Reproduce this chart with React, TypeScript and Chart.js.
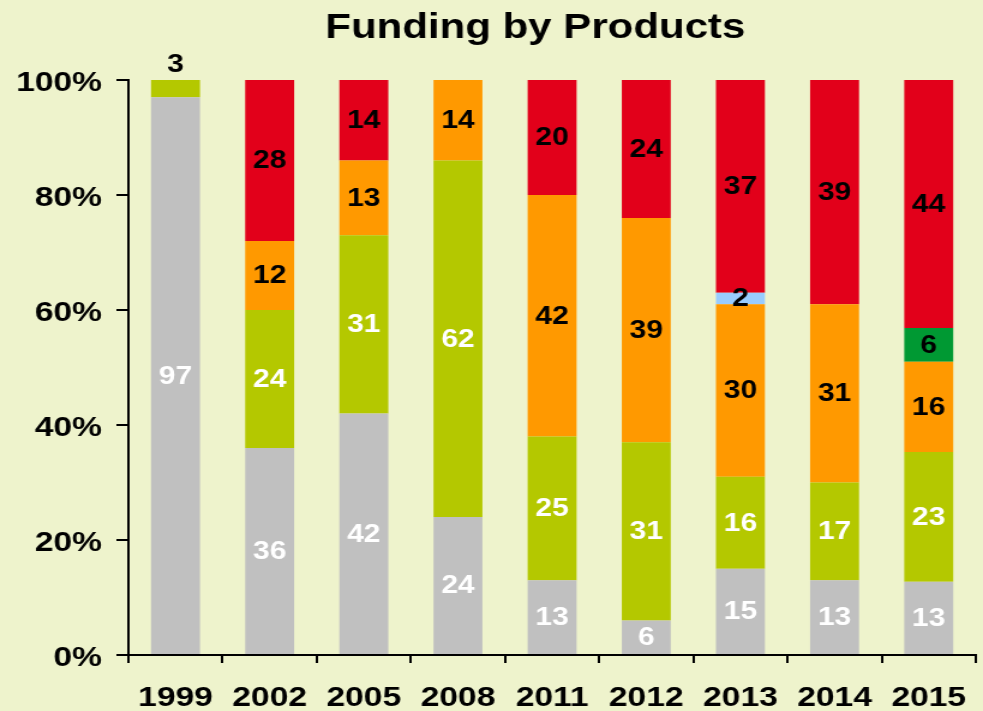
import React, { useEffect, useRef } from "react";
import { Chart, registerables } from "chart.js";

Chart.register(...registerables);

const years = ["1999", "2002", "2005", "2008", "2011", "2012", "2013", "2014", "2015"];
const productA = [97, 36, 42, 24, 13, 6, 15, 13, 13];
const productB = [3, 24, 31, 62, 25, 31, 16, 17, 23];
const productC = [0, 12, 13, 14, 42, 39, 30, 31, 16];
const productD = [0, 0, 0, 0, 0, 0, 0, 0, 6];
const productE = [0, 0, 0, 0, 0, 0, 2, 0, 0];
const productF = [0, 28, 14, 0, 20, 24, 37, 39, 44];
const yTicks = [0, 20, 40, 60, 80, 100];

const seriesNames = ["Product A", "Product B", "Product C", "Product D", "Product E", "Product F"];
const seriesValues = [productA, productB, productC, productD, productE, productF];
const seriesColors = ["#C0C0C0", "#B4C800", "#FF9900", "#009933", "#99CCFF", "#E2001A"];
const labelColors = ["#FFFFFF", "#FFFFFF", "#000000", "#000000", "#000000", "#000000"];

const FONT = '"Liberation Sans", Arial, sans-serif';
const STRETCH = 1.2;
const W = 983;
const H = 711;
const IW = Math.round(W / STRETCH);

const totals = years.map((_, i) => seriesValues.reduce((s, arr) => s + arr[i], 0));

const titlePlugin = {
  id: "customTitle",
  afterDraw(chart: any) {
    const ctx = chart.ctx;
    ctx.save();
    ctx.font = `bold 35px ${FONT}`;
    ctx.fillStyle = "#000";
    ctx.textAlign = "center";
    ctx.textBaseline = "alphabetic";
    ctx.fillText("Funding by Products", 446, 38);
    ctx.restore();
  },
};

const labelPlugin = {
  id: "segLabels",
  afterDatasetsDraw(chart: any) {
    const ctx = chart.ctx;
    ctx.save();
    ctx.font = `bold 25px ${FONT}`;
    ctx.textAlign = "center";
    ctx.textBaseline = "middle";
    chart.data.datasets.forEach((_: any, di: number) => {
      const meta = chart.getDatasetMeta(di);
      meta.data.forEach((bar: any, i: number) => {
        const v = seriesValues[di][i];
        if (!v) return;
        const { x, y, base } = bar.getProps(["x", "y", "base"], true);
        const h = Math.abs(base - y);
        let isTop = true;
        for (let k = di + 1; k < seriesValues.length; k++) {
          if (seriesValues[k][i] > 0) isTop = false;
        }
        if (isTop && h < 25) {
          ctx.fillStyle = "#000";
          ctx.fillText(String(v), x, Math.min(y, base) - 15);
        } else {
          ctx.fillStyle = labelColors[di];
          ctx.fillText(String(v), x, (y + base) / 2 + 1);
        }
      });
    });
    ctx.restore();
  },
};

export default function App() {
  const ref = useRef<HTMLCanvasElement | null>(null);

  useEffect(() => {
    if (!ref.current) return;
    const chart = new Chart(ref.current, {
      type: "bar",
      data: {
        labels: years,
        datasets: seriesValues.map((arr, di) => ({
          label: seriesNames[di],
          data: arr.map((v, i) => (v / totals[i]) * 100),
          backgroundColor: seriesColors[di],
          borderWidth: 0,
          barPercentage: 0.52,
          categoryPercentage: 1,
        })),
      },
      options: {
        responsive: false,
        animation: false,
        devicePixelRatio: 1,
        layout: { padding: { top: 80, left: 13, right: 6, bottom: 0 } },
        plugins: {
          legend: { display: false },
          title: { display: false },
          tooltip: { enabled: false },
        },
        scales: {
          x: {
            stacked: true,
            afterFit: (scale: any) => {
              scale.height = 56;
              scale.paddingLeft = 0;
              scale.paddingRight = 0;
            },
            border: { display: true, color: "#000", width: 2 },
            grid: {
              offset: true,
              drawOnChartArea: false,
              drawTicks: true,
              tickLength: 8,
              color: "#000",
              lineWidth: 2,
            },
            ticks: {
              color: "#000",
              font: { family: FONT, size: 28, weight: "bold", lineHeight: 1 },
              padding: 21,
              maxRotation: 0,
              autoSkip: false,
            },
          },
          y: {
            stacked: true,
            min: 0,
            max: 100,
            afterFit: (scale: any) => {
              scale.width = 94;
            },
            afterBuildTicks: (scale: any) => {
              scale.ticks = yTicks.map((v) => ({ value: v }));
            },
            border: { display: true, color: "#000", width: 2 },
            grid: {
              drawOnChartArea: false,
              drawTicks: true,
              tickLength: 10,
              color: "#000",
              lineWidth: 2,
            },
            ticks: {
              color: "#000",
              font: { family: FONT, size: 28, weight: "bold", lineHeight: 1 },
              padding: 12,
              labelOffset: 3,
              callback: (v: any) => `${v}%`,
            },
          },
        },
      },
      plugins: [labelPlugin, titlePlugin],
    });
    return () => chart.destroy();
  }, []);

  return (
    <div
      style={{
        position: "fixed",
        left: 0,
        top: 0,
        width: W,
        height: H,
        background: "#EEF3CC",
        overflow: "hidden",
      }}
    >
      <canvas
        ref={ref}
        width={IW}
        height={H}
        style={{ width: `${W}px`, height: `${H}px`, display: "block" }}
      />
    </div>
  );
}
